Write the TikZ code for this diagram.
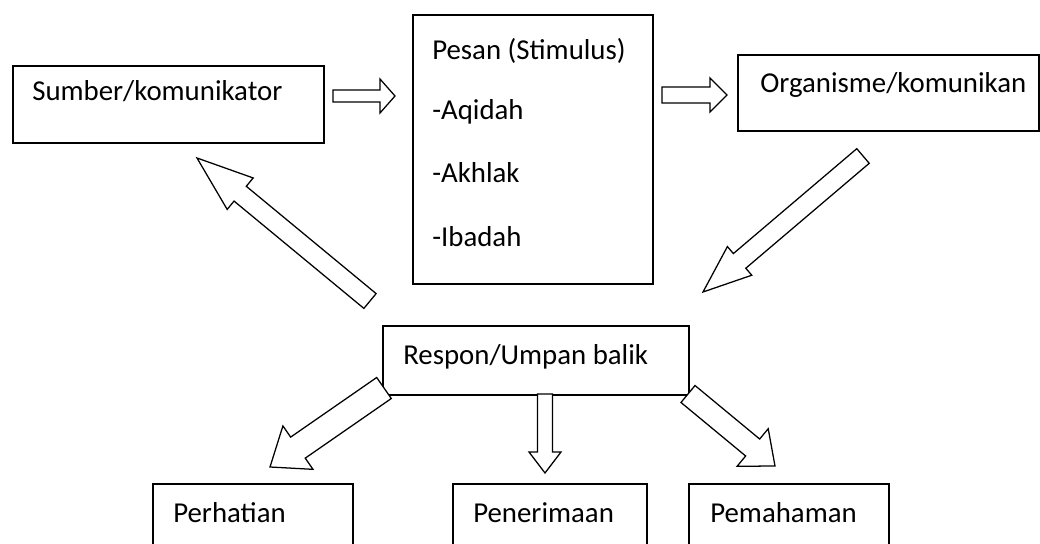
\documentclass[tikz,border=0pt]{standalone}
\usepackage{fontspec}
\setmainfont{Carlito}
\usetikzlibrary{calc}
\tikzset{
	diagram/.style={x=0.025cm, y=-0.025cm, font=\fontsize{20.5}{24}\selectfont},
	kotak/.style={draw, line width=1.3pt, fill=white, anchor=north west, inner sep=0pt},
	teks/.style={anchor=base west, inner sep=0pt},
	panah/.style={draw, line width=0.9pt, fill=white, line join=miter},
}
% panah blok: pangkal, ujung, setengah batang, panjang kepala, setengah kepala
\newcommand{\panahblok}[5]{%
	\coordinate (kepala) at ($(#2)!#4!(#1)$);
	\draw[panah] ($(#1)!#3!90:(#2)$) -- ($(kepala)!#3!90:(#2)$) -- ($(kepala)!#5!90:(#2)$)
	    -- (#2) -- ($(kepala)!#5!-90:(#2)$) -- ($(kepala)!#3!-90:(#2)$) -- ($(#1)!#3!-90:(#2)$) -- cycle;}

\begin{document}
\begin{tikzpicture}[diagram]
\useasboundingbox (0,0) rectangle (1040,544);

\node[kotak, minimum width=7.775cm, minimum height=1.925cm] (sumber) at (12,65) {};
\node[teks] (sumber-t) at ($(sumber.north west)+(20,36)$) {Sumber/komunikator};

\node[kotak, minimum width=6cm, minimum height=6.725cm] (pesan) at (412,14) {};
\node[teks] (pesan-t1) at ($(pesan.north west)+(20,46)$) {Pesan (Stimulus)};
\node[teks] (pesan-t2) at ($(pesan.north west)+(20,106)$) {-Aqidah};
\node[teks] (pesan-t3) at ($(pesan.north west)+(20,169)$) {-Akhlak};
\node[teks] (pesan-t4) at ($(pesan.north west)+(20,233)$) {-Ibadah};

\node[kotak, minimum width=7.525cm, minimum height=1.9cm] (organisme) at (737,54) {};
\node[teks] (organisme-t) at ($(organisme.north west)+(23,39)$) {Organisme/komunikan};

\node[kotak, minimum width=7.65cm, minimum height=1.725cm] (respon) at (382,325) {};
\node[teks] (respon-t) at ($(respon.north west)+(21,39)$) {Respon/Umpan balik};

\node[kotak, minimum width=5cm, minimum height=2cm] (perhatian) at (152,483) {};
\node[teks] (perhatian-t) at ($(perhatian.north west)+(21,39)$) {Perhatian};
\node[kotak, minimum width=4.85cm, minimum height=2cm] (penerimaan) at (452,483) {};
\node[teks] (penerimaan-t) at ($(penerimaan.north west)+(21,39)$) {Penerimaan};
\node[kotak, minimum width=5cm, minimum height=2cm] (pemahaman) at (688,483) {};
\node[teks] (pemahaman-t) at ($(pemahaman.north west)+(22,39)$) {Pemahaman};

% ujung-ujung panah
\coordinate (a1) at (333,96);   \coordinate (b1) at (395,96);
\coordinate (a2) at (662,95);   \coordinate (b2) at (727,95);
\coordinate (a3) at (863,156);  \coordinate (b3) at (703,292);
\coordinate (a4) at (370,301);  \coordinate (b4) at (197,158);
\coordinate (a5) at (384,388);  \coordinate (b5) at (270,467);
\coordinate (a6) at (545,394);  \coordinate (b6) at (545,473);
\coordinate (a7) at (688,394);  \coordinate (b7) at (775,466);

\panahblok{a1}{b1}{0.15cm}{0.375cm}{0.425cm}
\panahblok{a2}{b2}{0.2cm}{0.425cm}{0.425cm}
\panahblok{a3}{b3}{0.24cm}{1.2cm}{0.47cm}
\panahblok{a4}{b4}{0.24cm}{1.4cm}{0.51cm}
\panahblok{a5}{b5}{0.32cm}{0.85cm}{0.66cm}
\panahblok{a6}{b6}{0.19cm}{0.525cm}{0.4cm}
\panahblok{a7}{b7}{0.275cm}{0.725cm}{0.61cm}

\end{tikzpicture}
\end{document}
